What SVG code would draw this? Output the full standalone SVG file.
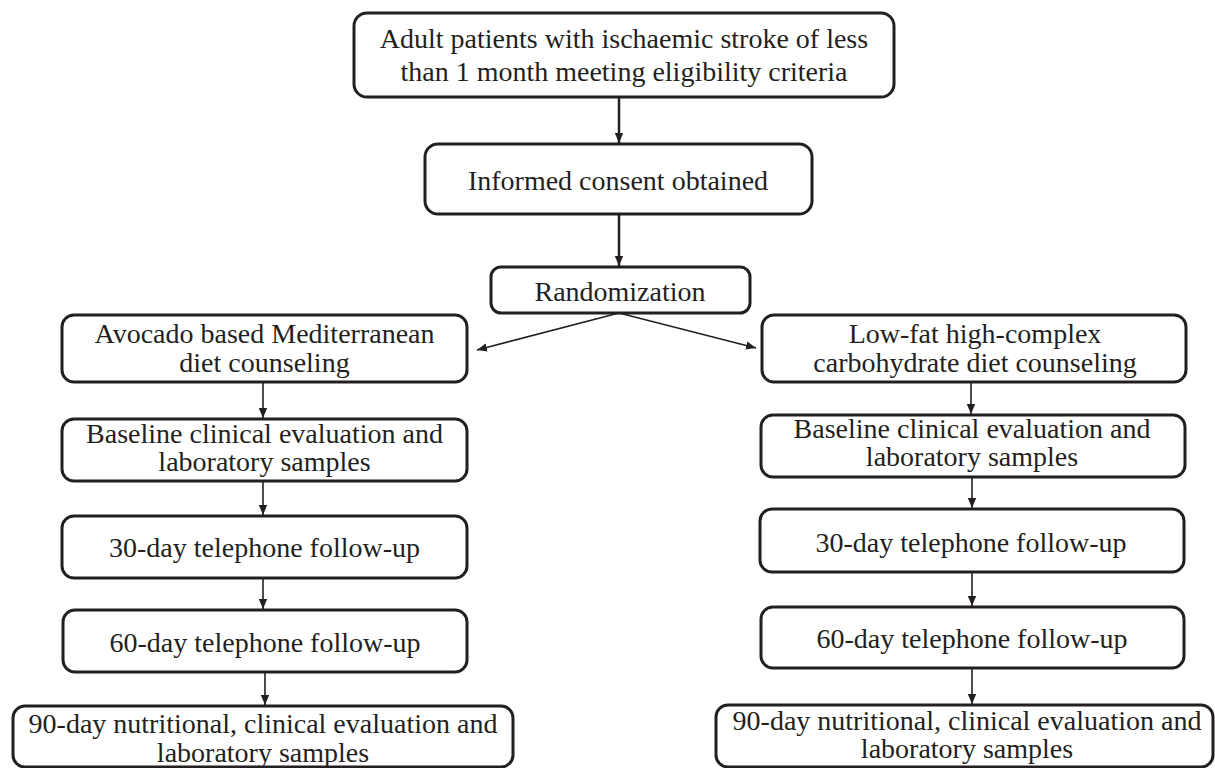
<svg xmlns="http://www.w3.org/2000/svg" width="1215" height="768" viewBox="0 0 1215 768">
<style>
.box{fill:#ffffff;stroke:#231f20;stroke-width:3}
.t{font-family:'Liberation Serif','Times New Roman',Times,serif;font-size:28px;fill:#231f20;text-anchor:middle}
.c{stroke:#231f20;fill:none}
</style>
<defs>
<marker id="ah" markerUnits="userSpaceOnUse" markerWidth="12" markerHeight="10" refX="10" refY="5" orient="auto">
<path d="M0,0.8 L10,5 L0,9.2 Z" fill="#231f20"/>
</marker>
</defs>
<rect width="1215" height="768" fill="#ffffff"/>
<g id="n1"><rect class="box" x="354" y="13" width="540" height="84" rx="13"/>
<text class="t" x="624" y="48">Adult patients with ischaemic stroke of less</text>
<text class="t" x="624" y="81">than 1 month meeting eligibility criteria</text></g>
<g id="n2"><rect class="box" x="425" y="144" width="387" height="70" rx="13"/>
<text class="t" x="618" y="190">Informed consent obtained</text></g>
<g id="n3"><rect class="box" x="491" y="267" width="259" height="46" rx="10"/>
<text class="t" x="620" y="301">Randomization</text></g>
<g id="l1"><rect class="box" x="62" y="315" width="405" height="67" rx="12"/>
<text class="t" x="264.5" y="343">Avocado based Mediterranean</text>
<text class="t" x="264.5" y="372">diet counseling</text></g>
<g id="l2"><rect class="box" x="62" y="419" width="405" height="62" rx="12"/>
<text class="t" x="264.5" y="443">Baseline clinical evaluation and</text>
<text class="t" x="264.5" y="471">laboratory samples</text></g>
<g id="l3"><rect class="box" x="62" y="516" width="405" height="62" rx="12"/>
<text class="t" x="264.5" y="557">30-day telephone follow-up</text></g>
<g id="l4"><rect class="box" x="63" y="610" width="404" height="62" rx="12"/>
<text class="t" x="265" y="652">60-day telephone follow-up</text></g>
<g id="l5"><rect class="box" x="13" y="706" width="500" height="61" rx="12"/>
<text class="t" x="263" y="733">90-day nutritional, clinical evaluation and</text>
<text class="t" x="263" y="762">laboratory samples</text></g>
<g id="r1"><rect class="box" x="762" y="315" width="424" height="67" rx="12"/>
<text class="t" x="975" y="343">Low-fat high-complex</text>
<text class="t" x="975" y="372">carbohydrate diet counseling</text></g>
<g id="r2"><rect class="box" x="761" y="415" width="424" height="62" rx="12"/>
<text class="t" x="972" y="438">Baseline clinical evaluation and</text>
<text class="t" x="972" y="466">laboratory samples</text></g>
<g id="r3"><rect class="box" x="760" y="509" width="424" height="63" rx="12"/>
<text class="t" x="971" y="552">30-day telephone follow-up</text></g>
<g id="r4"><rect class="box" x="761" y="607" width="423" height="61" rx="12"/>
<text class="t" x="972" y="648">60-day telephone follow-up</text></g>
<g id="r5"><rect class="box" x="716" y="705" width="497" height="62" rx="12"/>
<text class="t" x="967" y="730">90-day nutritional, clinical evaluation and</text>
<text class="t" x="967" y="758">laboratory samples</text></g>
<g id="connectors">
<line class="c" stroke-width="2.5" x1="619" y1="97" x2="619" y2="143" marker-end="url(#ah)"/>
<line class="c" stroke-width="2.5" x1="619" y1="214" x2="619" y2="266" marker-end="url(#ah)"/>
<line class="c" stroke-width="1.6" x1="619" y1="313" x2="477" y2="350" marker-end="url(#ah)"/>
<line class="c" stroke-width="1.6" x1="619" y1="313" x2="756" y2="348" marker-end="url(#ah)"/>
<line class="c" stroke-width="1.6" x1="263" y1="382" x2="263" y2="418" marker-end="url(#ah)"/>
<line class="c" stroke-width="1.6" x1="263" y1="481" x2="263" y2="515" marker-end="url(#ah)"/>
<line class="c" stroke-width="1.6" x1="263" y1="578" x2="263" y2="609" marker-end="url(#ah)"/>
<line class="c" stroke-width="1.6" x1="265" y1="672" x2="265" y2="705" marker-end="url(#ah)"/>
<line class="c" stroke-width="1.6" x1="971" y1="382" x2="971" y2="414" marker-end="url(#ah)"/>
<line class="c" stroke-width="1.6" x1="972" y1="477" x2="972" y2="508" marker-end="url(#ah)"/>
<line class="c" stroke-width="1.6" x1="972" y1="572" x2="972" y2="606" marker-end="url(#ah)"/>
<line class="c" stroke-width="1.6" x1="972" y1="668" x2="972" y2="704" marker-end="url(#ah)"/>
</g>
</svg>
